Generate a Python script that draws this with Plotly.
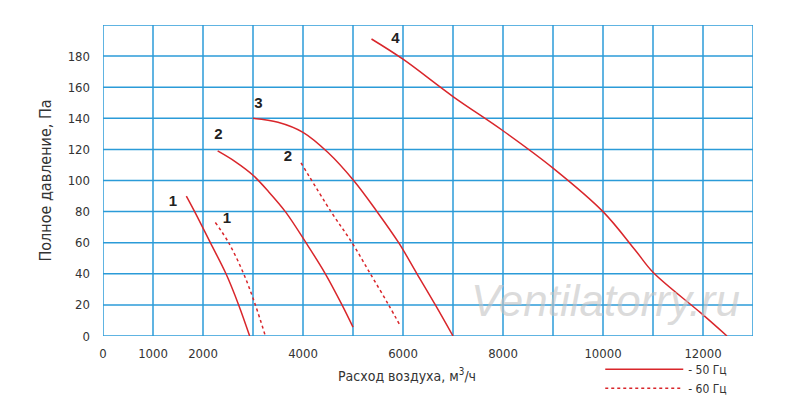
import plotly.graph_objects as go

# fan curves (x - м3/ч, y - Па)
c1_x = [1667, 1833, 2147, 2460, 2713, 2933]
c1_y = [90, 80, 60, 40, 20, 0]
c1d_x = [2247, 2513, 2813, 3047, 3247]
c1d_y = [73, 60, 40, 20, 0]
c2_x = [2293, 2650, 3000, 3320, 3647, 4060, 4447, 4780, 5000]
c2_y = [119, 112, 103.4, 92.5, 80, 60, 40, 20, 5.7]
c2d_x = [3960, 4560, 4980, 5347, 5713, 5947]
c2d_y = [111.4, 80, 60, 40, 20, 6.4]
c3_x = [3000, 3500, 4000, 4500, 5013, 5480, 5913, 6280, 6647, 7000]
c3_y = [140, 137.5, 131, 118, 100, 80, 60, 40, 20, 0]
c4_x = [5370, 6000, 7000, 8000, 9000, 10000, 10650, 11000, 11950, 12480]
c4_y = [191, 178, 154, 132, 108, 80, 55, 41, 15, 0]

lbl_x = [1400, 2480, 2310, 3700, 3110, 5850]
lbl_y = [86, 75, 129, 115, 149, 191]
lbl_t = ["1", "1", "2", "2", "3", "4"]

x_ticks = [0, 1000, 2000, 4000, 6000, 8000, 10000, 12000]
y_ticks = [0, 20, 40, 60, 80, 100, 120, 140, 160, 180]

red = "#d9262b"
grid = "#2b9bd8"
font = "DejaVu Sans Condensed, Liberation Sans Narrow, Liberation Sans, Arial"

fig = go.Figure()
solid = [(c1_x, c1_y), (c2_x, c2_y), (c3_x, c3_y), (c4_x, c4_y)]
dotted = [(c1d_x, c1d_y), (c2d_x, c2d_y)]
for i, (xs, ys) in enumerate(solid):
    fig.add_trace(go.Scatter(x=xs, y=ys, mode='lines',
                             line=dict(color=red, width=1.5, shape='spline', smoothing=1.0),
                             name='- 50 Гц', showlegend=(i == 0), legendrank=1))
for i, (xs, ys) in enumerate(dotted):
    fig.add_trace(go.Scatter(x=xs, y=ys, mode='lines',
                             line=dict(color=red, width=1.5, dash='dot', shape='spline', smoothing=1.0),
                             name='- 60 Гц', showlegend=(i == 0), legendrank=2))

fig.add_trace(go.Scatter(x=lbl_x, y=lbl_y, mode='text', text=["<b>%s</b>" % t for t in lbl_t],
                         showlegend=False,
                         textfont=dict(family="Liberation Sans, Arial", size=15, color="#222222")))

# watermark
fig.add_annotation(x=10040, y=23, text="<i>Ventilatorry.ru</i>", showarrow=False,
                   font=dict(family="Liberation Sans, Arial", size=44, color="rgba(195,195,195,0.6)"))

# x axis title, placed a bit left of centre like the original
fig.add_annotation(xref="paper", yref="paper", x=0.468, y=-0.125, xanchor="center", yanchor="middle",
                   text="Расход воздуха, м<sup>3</sup>/ч", showarrow=False,
                   font=dict(family=font, size=14, color="#333333"))

# page body adds 8px margin, so the figure is a bit smaller than the window
fig.update_layout(
    width=792, height=397, autosize=False,
    margin=dict(l=95, r=47, t=17, b=69, autoexpand=False),
    paper_bgcolor="white", plot_bgcolor="white",
    font=dict(family=font, size=13, color="#333333"),
    xaxis=dict(range=[0, 13000], tickmode='array', tickvals=x_ticks,
               ticktext=[str(v) for v in x_ticks], showgrid=False, zeroline=False,
               showline=False, ticks="", automargin=False, ticklabelstandoff=8),
    yaxis=dict(range=[0, 200], tickvals=y_ticks, showgrid=False, zeroline=False,
               showline=False, ticks="", ticklabelstandoff=12, automargin=False,
               title=dict(text="Полное давление, Па", standoff=12)),
    legend=dict(x=0.765, y=-0.06, xanchor='left', yanchor='top', itemwidth=78,
                bgcolor="rgba(0,0,0,0)", font=dict(size=12, family=font), tracegroupgap=0),
    showlegend=True,
)

# blue grid drawn as shapes on the axes
for v in range(0, 13001, 1000):
    fig.add_shape(type="line", xref="x", yref="y", x0=v, x1=v, y0=0, y1=200,
                  line=dict(color=grid, width=1.5), layer="below")
for v in range(0, 201, 20):
    fig.add_shape(type="line", xref="x", yref="y", x0=0, x1=13000, y0=v, y1=v,
                  line=dict(color=grid, width=1.5), layer="below")

fig.write_html("out.html")
